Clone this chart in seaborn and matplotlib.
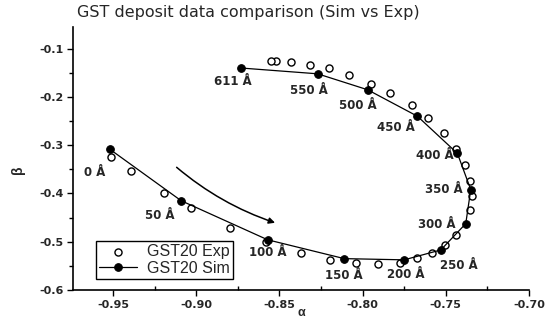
import matplotlib
matplotlib.use("Agg")
import matplotlib.pyplot as plt
import seaborn as sns
import pandas as pd
from matplotlib.ticker import AutoMinorLocator

# ---------------- data ----------------
exp_alpha = [-0.9512, -0.9392, -0.9195, -0.9028, -0.8794, -0.8579, -0.8370, -0.8196,
             -0.8041, -0.7909, -0.7778, -0.7670, -0.7580, -0.7502, -0.7437, -0.7353,
             -0.7341, -0.7353, -0.7383, -0.7437, -0.7508, -0.7604, -0.7706, -0.7837,
             -0.7951, -0.8083, -0.8202, -0.8316, -0.8429, -0.8519, -0.8549]
exp_beta = [-0.325, -0.354, -0.400, -0.431, -0.471, -0.500, -0.523, -0.5375,
            -0.544, -0.546, -0.544, -0.533, -0.523, -0.506, -0.485, -0.435,
            -0.406, -0.375, -0.342, -0.308, -0.275, -0.244, -0.217, -0.192,
            -0.173, -0.154, -0.140, -0.133, -0.127, -0.125, -0.125]

sim_alpha = [-0.952, -0.909, -0.857, -0.811, -0.775, -0.753, -0.738, -0.735,
             -0.743, -0.767, -0.797, -0.827, -0.873]
sim_beta = [-0.308, -0.415, -0.496, -0.535, -0.5375, -0.517, -0.4625, -0.392,
            -0.317, -0.240, -0.185, -0.152, -0.140]
sim_labels = ["0 Å", "50 Å", "100 Å", "150 Å", "200 Å", "250 Å", "300 Å",
              "350 Å", "400 Å", "450 Å", "500 Å", "550 Å", "611 Å"]

x_ticks = [-0.95, -0.90, -0.85, -0.80, -0.75, -0.70]
y_ticks = [-0.6, -0.5, -0.4, -0.3, -0.2, -0.1]

arrow_start = (-0.913, -0.342)
arrow_end = (-0.851, -0.4625)

# ---------------- styling ----------------
sns.set_theme(style="ticks")
plt.rcParams['font.family'] = ['Liberation Sans', 'DejaVu Sans']

# label offsets in pixels (dx right, dy down)
label_offsets = [(-15, 23), (-21, 15), (0, 13), (0, 17), (2, 15), (18, 16),
                 (-29, 1), (-27, 0), (-23, 2), (-22, 11), (-10, 16), (-9, 17), (-8, 13)]

fig = plt.figure(figsize=(5.52, 3.24), dpi=100)
ax = fig.add_axes([73/552, 1-290/324, (529-73)/552, (290-27)/324])

exp_df = pd.DataFrame({"alpha": exp_alpha, "beta": exp_beta})
sim_df = pd.DataFrame({"alpha": sim_alpha, "beta": sim_beta})

sns.scatterplot(data=exp_df, x="alpha", y="beta", ax=ax, marker="o",
                s=26, facecolor="white", edgecolor="black", linewidth=1.0,
                label="GST20 Exp", zorder=3)
sns.lineplot(data=sim_df, x="alpha", y="beta", ax=ax, sort=False,
             color="black", linewidth=0.9, marker="o", markersize=5.5,
             markerfacecolor="black", markeredgecolor="black",
             label="GST20 Sim", zorder=4)

px2pt = 72/100
for xa, yb, lab, (dx, dy) in zip(sim_alpha, sim_beta, sim_labels, label_offsets):
    ax.annotate(lab, (xa, yb), xytext=(dx*px2pt, -dy*px2pt), textcoords="offset points",
                ha="center", va="center", fontsize=8.5, fontweight="bold",
                family="DejaVu Sans")

ax.annotate("", xy=arrow_end, xytext=arrow_start,
            arrowprops=dict(arrowstyle="-|>", color="black", lw=1.1,
                            mutation_scale=9,
                            connectionstyle="arc3,rad=0.1"))

ax.set_xlim(-0.974, -0.70)
ax.set_ylim(-0.6, -0.055)
ax.set_xticks(x_ticks)
ax.set_yticks(y_ticks)
ax.set_xticklabels([f"{v:.2f}" for v in x_ticks])
ax.set_yticklabels([f"{v:.1f}" for v in y_ticks])
ax.xaxis.set_minor_locator(AutoMinorLocator(2))
ax.yaxis.set_minor_locator(AutoMinorLocator(2))

for lab in ax.get_xticklabels() + ax.get_yticklabels():
    lab.set_fontweight("bold")
    lab.set_fontsize(8)
    lab.set_family("DejaVu Sans")
ax.tick_params(axis="both", which="major", direction="out", length=4, width=1.0,
               color="black", pad=3)
ax.tick_params(axis="x", which="minor", direction="in", length=3, width=1.0, color="black")
ax.tick_params(axis="y", which="minor", direction="out", length=3, width=1.0, color="black")

sns.despine(ax=ax)
for sp in ["left", "bottom"]:
    ax.spines[sp].set_linewidth(1.2)
    ax.spines[sp].set_color("black")

ax.set_xlabel("α", fontsize=9, fontweight="bold")
ax.set_ylabel("β", fontsize=10, fontweight="bold")
ax.xaxis.set_label_coords(0.5, -0.087)
ax.xaxis.label.set_va("center")
ax.yaxis.set_label_coords(-0.12, 0.456)
ax.yaxis.label.set_va("center")

leg = ax.legend(loc="lower left", bbox_to_anchor=(0.05, 0.042), borderaxespad=0,
                frameon=True, fancybox=False, edgecolor="black", fontsize=11.5,
                handlelength=2.4, handletextpad=0.6, borderpad=0.2, labelspacing=0.1,
                scatterpoints=1)
leg.get_frame().set_linewidth(1.0)
leg.get_frame().set_alpha(1)

fig.text(77/552, 1-12/324, "GST deposit data comparison (Sim vs Exp)",
         ha="left", va="center", fontsize=11.5, family="DejaVu Sans")

fig.savefig("out.png", dpi=100)
